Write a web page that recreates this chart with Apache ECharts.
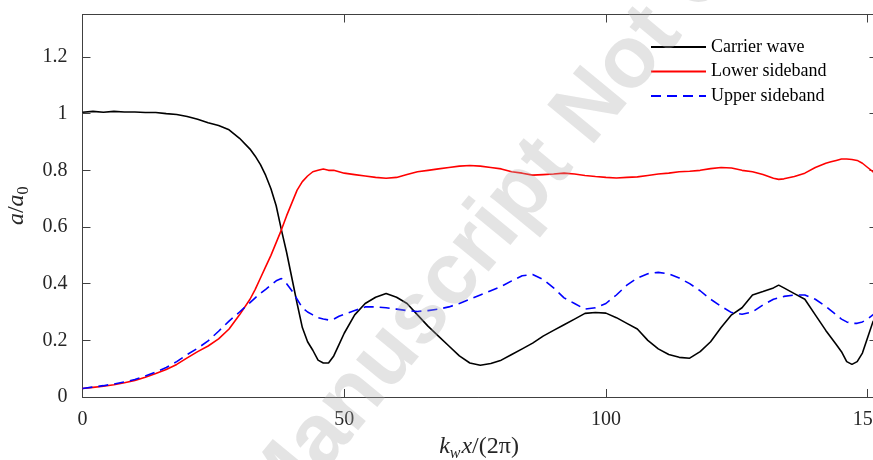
<!DOCTYPE html>
<html>
<head>
<meta charset="utf-8">
<script src="https://cdn.jsdelivr.net/npm/echarts@6/dist/echarts.min.js"></script>
<style>
html, body { margin: 0; padding: 0; background: #fff; }
#chart { width: 873px; height: 460px; }
</style>
</head>
<body>
<div id="chart"></div>
<script>
// 横轴 k_w x/(2π)
var xs = [0, 2, 4, 6, 8, 10, 12, 14, 16, 18, 20, 22, 24, 26, 28, 30, 32, 33, 34, 35,
	36, 37, 38, 39, 40, 41, 42, 43, 44, 45, 46, 47, 48, 49, 50, 52, 54, 56, 58, 60,
	62, 64, 66, 68, 70, 72, 74, 76, 78, 80, 82, 84, 86, 88, 90, 92, 94, 96, 98, 100,
	102, 104, 106, 108, 110, 112, 114, 116, 118, 120, 122, 124, 126, 128, 130, 132, 133, 134, 136, 138,
	140, 142, 143, 144, 145, 146, 147, 148, 149, 150, 151, 151.5];

var carrier = [1.005, 1.008, 1.005, 1.008, 1.006, 1.006, 1.004, 1.004, 1.000, 0.997, 0.99, 0.98, 0.968, 0.958, 0.943, 0.913, 0.875, 0.85, 0.82, 0.782,
	0.735, 0.675, 0.59, 0.51, 0.42, 0.33, 0.245, 0.195, 0.165, 0.13, 0.12, 0.12, 0.145, 0.185, 0.225, 0.29, 0.33, 0.352, 0.365, 0.352,
	0.33, 0.29, 0.25, 0.215, 0.18, 0.145, 0.12, 0.112, 0.118, 0.13, 0.15, 0.17, 0.19, 0.215, 0.235, 0.255, 0.275, 0.295, 0.298, 0.296,
	0.28, 0.26, 0.24, 0.20, 0.17, 0.15, 0.14, 0.137, 0.16, 0.195, 0.245, 0.29, 0.315, 0.36, 0.372, 0.385, 0.395, 0.385, 0.365, 0.345,
	0.29, 0.235, 0.21, 0.185, 0.16, 0.125, 0.115, 0.125, 0.155, 0.21, 0.265, 0.28];

var lower = [0.03, 0.034, 0.038, 0.043, 0.05, 0.058, 0.07, 0.083, 0.097, 0.115, 0.138, 0.16, 0.18, 0.205, 0.24, 0.29, 0.345, 0.38, 0.42, 0.46,
	0.50, 0.545, 0.59, 0.64, 0.685, 0.73, 0.76, 0.78, 0.795, 0.80, 0.805, 0.80, 0.80, 0.795, 0.79, 0.785, 0.78, 0.775, 0.772, 0.775,
	0.785, 0.795, 0.80, 0.805, 0.81, 0.815, 0.817, 0.815, 0.81, 0.805, 0.795, 0.79, 0.783, 0.785, 0.787, 0.79, 0.787, 0.782, 0.778, 0.775,
	0.773, 0.775, 0.777, 0.782, 0.787, 0.79, 0.795, 0.797, 0.80, 0.806, 0.81, 0.808, 0.80, 0.795, 0.785, 0.772, 0.768, 0.77, 0.778, 0.79,
	0.81, 0.825, 0.83, 0.835, 0.84, 0.84, 0.838, 0.835, 0.825, 0.81, 0.795, 0.785];

var upper = [0.03, 0.035, 0.04, 0.046, 0.053, 0.062, 0.074, 0.088, 0.104, 0.125, 0.15, 0.172, 0.198, 0.232, 0.268, 0.30, 0.333, 0.35, 0.366, 0.38,
	0.395, 0.41, 0.418, 0.40, 0.375, 0.345, 0.315, 0.30, 0.29, 0.28, 0.275, 0.272, 0.275, 0.285, 0.292, 0.305, 0.318, 0.318, 0.315, 0.31,
	0.305, 0.302, 0.305, 0.31, 0.318, 0.33, 0.345, 0.36, 0.375, 0.39, 0.41, 0.428, 0.432, 0.415, 0.385, 0.35, 0.33, 0.31, 0.315, 0.33,
	0.36, 0.395, 0.42, 0.435, 0.44, 0.435, 0.42, 0.40, 0.375, 0.345, 0.32, 0.298, 0.292, 0.30, 0.325, 0.345, 0.35, 0.355, 0.36, 0.36,
	0.345, 0.32, 0.305, 0.29, 0.275, 0.265, 0.26, 0.26, 0.265, 0.275, 0.29, 0.295];

var seriesNames = ['Carrier wave', 'Lower sideband', 'Upper sideband'];

function pairs(ys) {
	var out = [];
	for (var i = 0; i < xs.length; i++) {
		out.push([xs[i], ys[i]]);
	}
	return out;
}

var serif = 'Liberation Serif';
var axisColor = '#404040';

var chart = echarts.init(document.getElementById('chart'), null, { renderer: 'canvas' });

var option = {
	animation: false,
	backgroundColor: '#fff',
	grid: { left: 82.5, right: -2.5, top: 14.5, bottom: 63, outerBoundsMode: 'none', containLabel: false },
	legend: {
		orient: 'vertical',
		left: 645,
		top: 33,
		itemWidth: 55,
		itemHeight: 14,
		itemGap: 6.5,
		itemStyle: { opacity: 0 },
		textStyle: { fontFamily: serif, fontSize: 18, color: '#000', lineHeight: 18 },
		data: seriesNames
	},
	xAxis: [{
		type: 'value',
		position: 'bottom',
		min: 0,
		max: 151.5,
		interval: 50,
		axisLine: { show: true, onZero: false, lineStyle: { color: axisColor } },
		axisTick: { show: true, inside: true, length: 8, lineStyle: { color: axisColor } },
		axisLabel: {
			fontFamily: serif, fontSize: 20, color: '#262626', margin: 13, showMaxLabel: false,
			formatter: function (v) { return v % 50 === 0 ? String(v) : ''; }
		},
		splitLine: { show: false },
		name: '{i|k}{s|w}{i|x}{n|/(2π)}',
		nameLocation: 'middle',
		nameGap: 33,
		nameTextStyle: {
			rich: {
				i: { fontFamily: serif, fontStyle: 'italic', fontSize: 24, color: '#262626', lineHeight: 30, verticalAlign: 'middle' },
				s: { fontFamily: serif, fontStyle: 'italic', fontSize: 16, color: '#262626', lineHeight: 30, verticalAlign: 'bottom', padding: [0, 1, 0, 0] },
				n: { fontFamily: serif, fontSize: 24, color: '#262626', lineHeight: 30, verticalAlign: 'middle' }
			}
		}
	}, {
		type: 'value',
		position: 'top',
		min: 0,
		max: 151.5,
		interval: 50,
		axisLine: { show: true, onZero: false, lineStyle: { color: axisColor } },
		axisTick: { show: true, inside: true, length: 8, lineStyle: { color: axisColor } },
		axisLabel: { show: false },
		splitLine: { show: false }
	}],
	yAxis: [{
		type: 'value',
		position: 'left',
		min: 0,
		max: 1.35,
		interval: 0.2,
		axisLine: { show: true, onZero: false, lineStyle: { color: axisColor } },
		axisTick: { show: true, inside: true, length: 8, lineStyle: { color: axisColor } },
		axisLabel: {
			fontFamily: serif, fontSize: 20, color: '#262626', margin: 15, showMaxLabel: false,
			formatter: function (v) { return Math.abs(v * 5 - Math.round(v * 5)) < 1e-6 ? String(Math.round(v * 10) / 10) : ''; }
		},
		splitLine: { show: false },
		name: '{i|a}{n|/}{i|a}{s|0}',
		nameLocation: 'middle',
		nameGap: 43,
		nameRotate: 90,
		nameTextStyle: {
			rich: {
				i: { fontFamily: serif, fontStyle: 'italic', fontSize: 24, color: '#262626', lineHeight: 30, verticalAlign: 'middle' },
				s: { fontFamily: serif, fontSize: 16, color: '#262626', lineHeight: 30, verticalAlign: 'bottom' },
				n: { fontFamily: serif, fontSize: 24, color: '#262626', lineHeight: 30, verticalAlign: 'middle' }
			}
		}
	}, {
		type: 'value',
		position: 'right',
		min: 0,
		max: 1.35,
		interval: 0.2,
		axisLine: { show: true, onZero: false, lineStyle: { color: axisColor } },
		axisTick: { show: true, inside: true, length: 6, lineStyle: { color: axisColor } },
		axisLabel: { show: false },
		splitLine: { show: false }
	}],
	series: [{
		name: seriesNames[0],
		type: 'line',
		symbol: 'none',
		data: pairs(carrier),
		lineStyle: { color: '#000', width: 1.6 },
		itemStyle: { color: '#000' }
	}, {
		name: seriesNames[1],
		type: 'line',
		symbol: 'none',
		data: pairs(lower),
		lineStyle: { color: '#ff0000', width: 1.6 },
		itemStyle: { color: '#ff0000' }
	}, {
		name: seriesNames[2],
		type: 'line',
		symbol: 'none',
		data: pairs(upper),
		lineStyle: { color: '#0000ff', width: 1.6, type: [10, 6] },
		itemStyle: { color: '#0000ff' }
	}],
	graphic: [{
		type: 'text',
		x: 258,
		y: 514,
		rotation: 50.6 * Math.PI / 180,
		z: 100,
		silent: true,
		style: {
			text: 'Manuscript Not Copyedited',
			fontFamily: 'Liberation Sans',
			fontWeight: 'bold',
			fontSize: 88,
			fill: 'rgba(170,170,170,0.32)',
			textAlign: 'left',
			textVerticalAlign: 'middle'
		}
	}]
};

chart.setOption(option);
</script>
</body>
</html>
